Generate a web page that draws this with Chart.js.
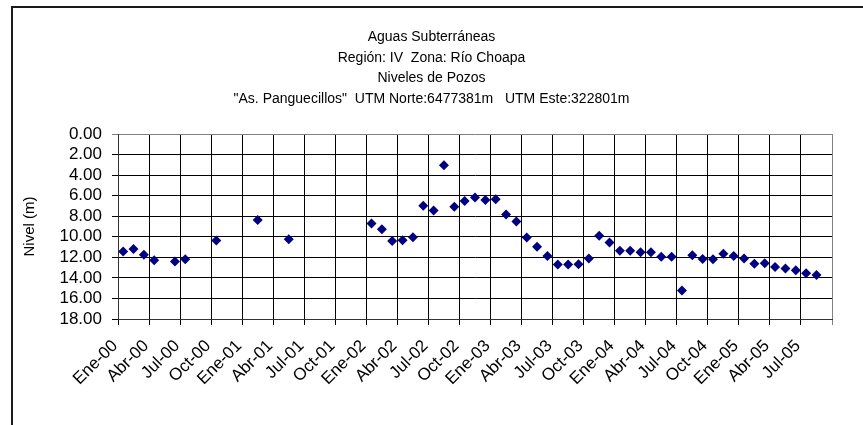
<!DOCTYPE html>
<html>
<head>
<meta charset="utf-8">
<script src="https://cdn.jsdelivr.net/npm/chart.js@4.4.1/dist/chart.umd.min.js"></script>
<style>
html, body { margin: 0; padding: 0; background: #fff; overflow: hidden; }
#wrap { position: relative; width: 863px; height: 425px; }
#marco { position: absolute; left: 11px; top: 6px; width: 900px; height: 500px;
         border-left: 2px solid #1a1a1a; border-top: 2px solid #1a1a1a; }
#grafico { position: absolute; left: 0; top: 0; }
</style>
</head>
<body>
<div id="wrap">
  <div id="marco"></div>
  <canvas id="grafico" width="863" height="425"></canvas>
</div>
<script>
// fecha de cada medición (año-mes) y nivel del agua en metros
const fechas = [
  "2000-01","2000-02","2000-03","2000-04","2000-06","2000-07","2000-10",
  "2001-02","2001-05",
  "2002-01","2002-02","2002-03","2002-04","2002-05","2002-06","2002-07","2002-08",
  "2002-09","2002-10","2002-11","2002-12",
  "2003-01","2003-02","2003-03","2003-04","2003-05","2003-06","2003-07","2003-08",
  "2003-09","2003-10","2003-11","2003-12",
  "2004-01","2004-02","2004-03","2004-04","2004-05","2004-06","2004-07","2004-08",
  "2004-09","2004-10","2004-11","2004-12",
  "2005-01","2005-02","2005-03","2005-04","2005-05","2005-06","2005-07","2005-08"
];
const nivel = [
  11.44, 11.20, 11.76, 12.28, 12.40, 12.18, 10.37,
  8.36, 10.24,
  8.71, 9.26, 10.40, 10.33, 10.04, 6.97, 7.45, 3.04,
  7.09, 6.51, 6.19, 6.41,
  6.35, 7.84, 8.52, 10.08, 10.98, 11.86, 12.70, 12.70,
  12.67, 12.12, 9.91, 10.56,
  11.37, 11.37, 11.50, 11.50, 11.95, 11.95, 15.23, 11.79,
  12.15, 12.18, 11.66, 11.86,
  12.12, 12.63, 12.57, 12.93, 13.09, 13.25, 13.54, 13.73
];
// etiquetas trimestrales del eje X (la última marca va sin texto)
const etiquetasX = [
  "Ene-00","Abr-00","Jul-00","Oct-00","Ene-01","Abr-01","Jul-01","Oct-01",
  "Ene-02","Abr-02","Jul-02","Oct-02","Ene-03","Abr-03","Jul-03","Oct-03",
  "Ene-04","Abr-04","Jul-04","Oct-04","Ene-05","Abr-05","Jul-05",""
];
const titulo = [
  "Aguas Subterráneas",
  "Región: IV  Zona: Río Choapa",
  "Niveles de Pozos",
  "\"As. Panguecillos\"  UTM Norte:6477381m   UTM Este:322801m"
];

const FUENTE = "'Liberation Sans', Arial, Helvetica, sans-serif";

// meses desde enero 2000, a mitad de mes
function mesDe(f){
  const [a, m] = f.split("-").map(Number);
  return (a - 2000) * 12 + (m - 1) + 0.5;
}

const puntos = fechas.map((f, i) => ({ x: mesDe(f), y: nivel[i] }));

// título centrado sobre todo el lienzo, no sólo sobre el área del gráfico
const tituloPozos = {
  id: "tituloPozos",
  afterDraw(chart){
    const ctx = chart.ctx;
    ctx.save();
    ctx.font = "14px " + FUENTE;
    ctx.fillStyle = "#000";
    ctx.textAlign = "center";
    ctx.textBaseline = "middle";
    titulo.forEach((t, i) => ctx.fillText(t, chart.width / 2, 37.5 + i * 20.4));
    ctx.restore();
  }
};

new Chart(document.getElementById("grafico"), {
  type: "scatter",
  data: {
    datasets: [{
      data: puntos,
      pointStyle: "rectRot",
      pointRadius: 5,
      backgroundColor: "#000080",
      borderColor: "#000080",
      borderWidth: 0
    }]
  },
  plugins: [tituloPozos],
  options: {
    responsive: false,
    animation: false,
    events: [],
    layout: { padding: { left: 0, right: 31, top: 134, bottom: 0 } },
    plugins: {
      legend: { display: false },
      tooltip: { enabled: false },
      title: { display: false }
    },
    scales: {
      x: {
        type: "linear",
        min: 0,
        max: 69,
        afterFit: s => { s.height = 106; },
        grid: {
          color: c => c.index === 23 ? "#808080" : "#000",
          lineWidth: 1,
          tickLength: 6
        },
        border: { color: "#333", width: 1 },
        ticks: {
          stepSize: 3,
          autoSkip: false,
          maxRotation: 45,
          minRotation: 45,
          padding: 11,
          labelOffset: -3,
          color: "#000",
          font: { family: FUENTE, size: 17 },
          callback: (v, i) => etiquetasX[i]
        }
      },
      y: {
        min: 0,
        max: 18,
        reverse: true,
        afterFit: s => { s.width = 118; },
        grid: {
          color: c => c.tick && c.tick.value === 0 ? "#808080" : "#000",
          lineWidth: 1,
          tickLength: 6
        },
        border: { color: "#333", width: 1 },
        ticks: {
          stepSize: 2,
          autoSkip: false,
          padding: 10,
          color: "#000",
          font: { family: FUENTE, size: 17 },
          callback: v => v.toFixed(2)
        },
        title: {
          display: true,
          text: "Nivel (m)",
          color: "#000",
          font: { family: FUENTE, size: 15 },
          padding: { top: 21, bottom: 0 }
        }
      }
    }
  }
});
</script>
</body>
</html>
